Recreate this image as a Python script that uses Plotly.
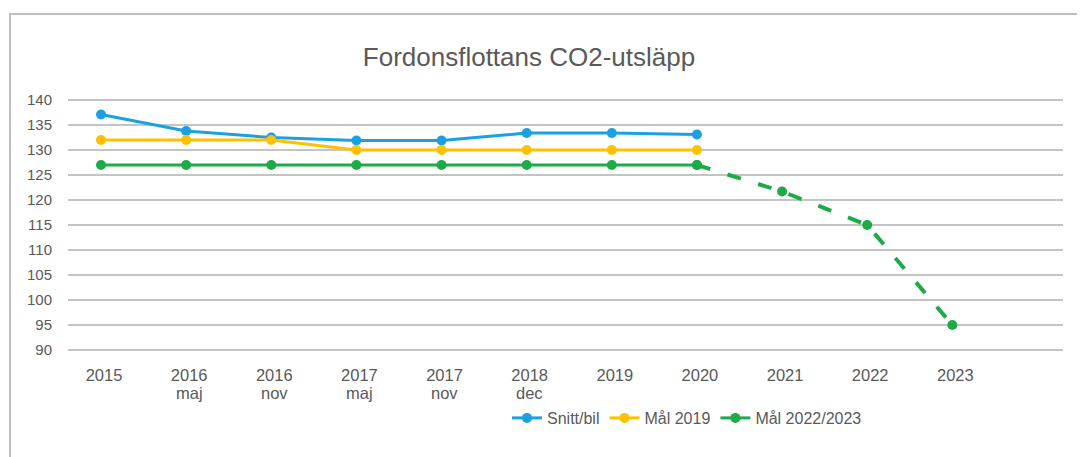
import plotly.graph_objects as go

categories = ["2015", "2016 maj", "2016 nov", "2017 maj", "2017 nov", "2018 dec",
              "2019", "2020", "2021", "2022", "2023"]
year_labels = ["2015", "2016", "2016", "2017", "2017", "2018",
               "2019", "2020", "2021", "2022", "2023"]
month_labels = ["", "maj", "nov", "maj", "nov", "dec", "", "", "", "", ""]
snitt_bil = [137.1, 133.8, 132.5, 131.9, 131.9, 133.4, 133.4, 133.1]
mal_2019 = [132, 132, 132, 130, 130, 130, 130, 130]
mal_2022_2023 = [127, 127, 127, 127, 127, 127, 127, 127, 121.7, 115, 95]

BLUE = "#1BA1E2"
YELLOW = "#FFC000"
GREEN = "#1DAB48"
TXT = "#595959"
FONT = "Liberation Sans, Arial, sans-serif"

fig = go.Figure()
fig.add_trace(go.Scatter(x=categories[:len(snitt_bil)], y=snitt_bil, name="Snitt/bil",
                         legendgroup="a", mode="lines+markers",
                         line=dict(color=BLUE, width=3), marker=dict(size=10, color=BLUE)))
fig.add_trace(go.Scatter(x=categories[:len(mal_2019)], y=mal_2019, name="Mål 2019",
                         legendgroup="b", mode="lines+markers",
                         line=dict(color=YELLOW, width=3), marker=dict(size=10, color=YELLOW)))
fig.add_trace(go.Scatter(x=categories[:8], y=mal_2022_2023[:8], name="Mål 2022/2023",
                         legendgroup="c", mode="lines+markers",
                         line=dict(color=GREEN, width=3), marker=dict(size=10, color=GREEN)))
fig.add_trace(go.Scatter(x=categories[7:], y=mal_2022_2023[7:], name="Mål 2022/2023",
                         legendgroup="c", mode="lines+markers", showlegend=False,
                         line=dict(color=GREEN, width=4, dash="14px,18px"),
                         marker=dict(size=10, color=GREEN)))

# page body has an 8px margin; figure coordinates = reference - 8
W, H = 1077, 449
L, R, T, B = 60, 22, 90, 105
pw, ph = W - L - R, H - T - B

month_annotations = [
    dict(x=c, xref="x", y=(344 - 385) / ph, yref="paper", text=m, showarrow=False,
         xanchor="center", yanchor="middle", xshift=3,
         font=dict(size=16.5, color=TXT, family=FONT))
    for c, m in zip(categories, month_labels) if m
]

fig.update_layout(
    width=W, height=H,
    margin=dict(l=L, r=R, t=T, b=B),
    paper_bgcolor="white", plot_bgcolor="white",
    font=dict(family=FONT, color=TXT),
    title=dict(text="Fordonsflottans CO2-utsläpp", x=(521 - L) / pw, xref="paper",
               xanchor="center", y=1 - 49 / H, yanchor="middle",
               font=dict(size=26, color=TXT, family=FONT)),
    xaxis=dict(type="category", categoryorder="array", categoryarray=categories,
               tickvals=categories, ticktext=year_labels,
               range=[-0.388, 11.30], showgrid=False, showline=False, zeroline=False,
               ticks="outside", ticklen=8, tickcolor="rgba(0,0,0,0)",
               ticklabelshift=3,
               tickfont=dict(size=16.5, color=TXT, family=FONT)),
    yaxis=dict(range=[89.6, 140.4], dtick=5, tick0=90, showgrid=True,
               gridcolor="#C4C4C4", gridwidth=2, zeroline=False, showline=False,
               ticks="outside", ticklen=12, tickcolor="rgba(0,0,0,0)",
               tickfont=dict(size=15, color=TXT, family=FONT)),
    legend=dict(orientation="h", x=(499 - L) / pw, xanchor="left",
                y=(344 - 410) / ph, yanchor="middle", tracegroupgap=13,
                font=dict(size=16, color=TXT, family=FONT),
                bgcolor="rgba(0,0,0,0)"),
    showlegend=True,
    annotations=month_annotations,
    shapes=[dict(type="rect", xref="paper", yref="paper",
                 x0=(2 - L) / pw, x1=1.2, y0=(344 - 6) / ph, y1=-0.8,
                 line=dict(color="#BFBFBF", width=2), fillcolor="rgba(0,0,0,0)",
                 layer="below")],
)

fig.write_html("out.html")
